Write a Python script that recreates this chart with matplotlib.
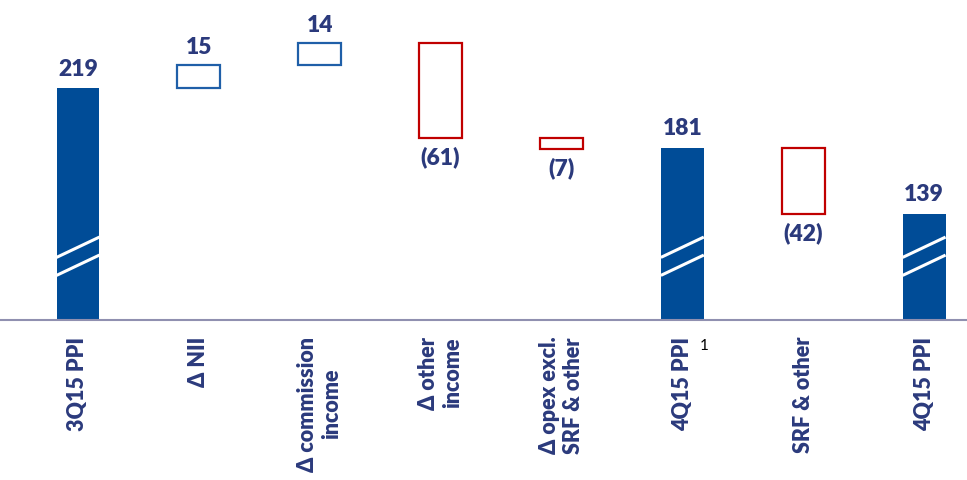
import matplotlib
matplotlib.use("Agg")
import matplotlib.pyplot as plt
from matplotlib.patches import Rectangle

categories = ["3Q15 PPI", "Δ NII", "Δ commission\nincome", "Δ other\nincome",
              "Δ opex excl.\nSRF & other", "4Q15 PPI", "SRF & other", "4Q15 PPI"]
values = [219, 15, 14, -61, -7, 181, -42, 139]
is_total = [True, False, False, False, False, True, False, True]
value_labels = ["219", "15", "14", "(61)", "(7)", "181", "(42)", "139"]

plt.rcParams['font.family'] = ['Lato', 'DejaVu Sans']

BAR = "#004C97"
POS = "#1F5FA8"
NEG = "#C00000"
TXT = "#2B3A7C"
AXC = "#9090B0"
WT = "heavy"

fig = plt.figure(figsize=(9.67, 4.8), dpi=100)
ax = fig.add_axes([0, 160/480, 1, 320/480])
ymin, ymax = 71, 275.5
ax.set_xlim(-0.645, 7.355)
ax.set_ylim(ymin, ymax)

w = 0.355
running = 0
for i, (v, tot) in enumerate(zip(values, is_total)):
    if tot:
        running = v
        ax.bar(i, v - ymin, bottom=ymin, width=w, color=BAR, zorder=2)
        # axis break marks
        ax.plot([i - w/2, i + w/2], [111, 124], color="white", lw=2.2, zorder=3,
                solid_capstyle="butt")
        ax.plot([i - w/2, i + w/2], [99.5, 112.5], color="white", lw=2.2, zorder=3,
                solid_capstyle="butt")
        ax.annotate(value_labels[i], (i, v), xytext=(0, 9), textcoords="offset points",
                    ha="center", va="baseline", fontsize=16.5, fontweight=WT, color=TXT)
    else:
        lo = min(running, running + v)
        hi = max(running, running + v)
        col = POS if v > 0 else NEG
        ax.add_patch(Rectangle((i - w/2, lo), w, hi - lo, fill=False, edgecolor=col,
                               lw=1.6, zorder=2))
        if v > 0:
            ax.annotate(value_labels[i], (i, hi), xytext=(0, 8), textcoords="offset points",
                        ha="center", va="baseline", fontsize=16.5, fontweight=WT, color=TXT)
        else:
            ax.annotate(value_labels[i], (i, lo), xytext=(0, -6), textcoords="offset points",
                        ha="center", va="top", fontsize=16.5, fontweight=WT, color=TXT)
        running += v

for s in ["top", "right", "left"]:
    ax.spines[s].set_visible(False)
ax.spines["bottom"].set_color(AXC)
ax.spines["bottom"].set_linewidth(1.5)
ax.set_yticks([])
ax.set_xticks(range(len(categories)))
ax.set_xticklabels(categories, rotation=90, fontsize=15.5, fontweight=WT, color=TXT,
                   ha="center", va="top", multialignment="center")
ax.tick_params(axis="x", length=0, pad=12)

ax.text(5.18, -0.08, "1", transform=ax.get_xaxis_transform(), fontsize=11,
        color="black", ha="center", va="center")

fig.savefig("out.png", dpi=100)
